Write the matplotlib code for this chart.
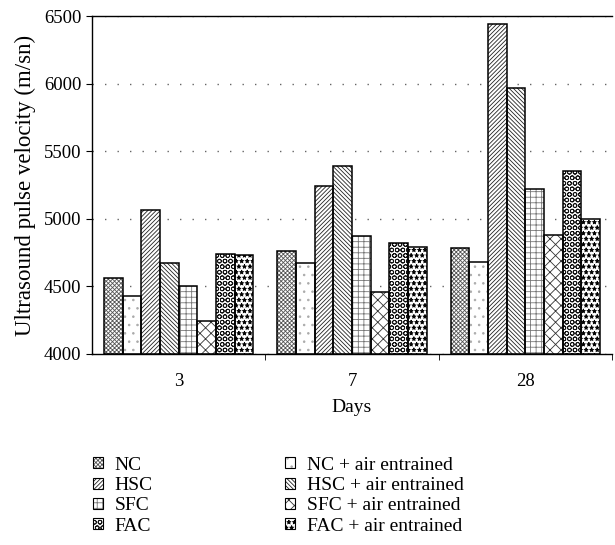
import numpy as np
import matplotlib
matplotlib.use("Agg")
import matplotlib.pyplot as plt
from matplotlib.patches import Patch

plt.rcParams['font.family'] = ['Liberation Serif', 'DejaVu Serif']
plt.rcParams['hatch.linewidth'] = 0.6

# data
days = ['3', '7', '28']
series = ['NC', 'NC + air entrained', 'HSC', 'HSC + air entrained',
          'SFC', 'SFC + air entrained', 'FAC', 'FAC + air entrained']
nc = [4562, 4764, 4781]
nc_air = [4429, 4675, 4680]
hsc = [5065, 5245, 6438]
hsc_air = [4671, 5390, 5965]
sfc = [4505, 4870, 5223]
sfc_air = [4246, 4461, 4880]
fac = [4737, 4823, 5351]
fac_air = [4730, 4789, 5001]
values = [nc, nc_air, hsc, hsc_air, sfc, sfc_air, fac, fac_air]

# hatch look for each series (pattern, hatch colour)
hatches = ['xxxxxxxx', '..', '////////', '\\\\\\\\\\\\\\\\', '+++', 'xxx', 'OOO', '***']
hcolors = ['#555555', '#aaaaaa', '#222222', '#222222', '#777777', '#333333', '#111111', '#000000']

fig = plt.figure(figsize=(6.15, 5.45), dpi=100)
ax = fig.add_axes([0.1496, 0.3505, 0.8455, 0.6201])

x = np.arange(len(days))
w = 0.1075
for i, vals in enumerate(values):
    pos = x + (i - 3.5) * w
    ax.bar(pos, np.array(vals) - 4000, w, bottom=4000, color='white',
           edgecolor=hcolors[i], linewidth=0, hatch=hatches[i], zorder=2)
    ax.bar(pos, np.array(vals) - 4000, w, bottom=4000, fill=False,
           edgecolor='black', linewidth=1.1, zorder=3)

ax.set_ylim(4000, 6500)
ax.set_xlim(-0.5, 2.5)
ax.set_yticks([4000, 4500, 5000, 5500, 6000, 6500])
ax.set_xticks(x)
ax.set_xticklabels(days)
ax.set_xticks([0.5, 1.5, 2.5], minor=True)
ax.tick_params(axis='x', which='major', length=0, pad=14, labelsize=13.5)
ax.tick_params(axis='x', which='minor', length=4, direction='out')
ax.tick_params(axis='y', length=4, direction='out', labelsize=13.5)
ax.grid(axis='y', color='#666666', linestyle=(0, (1, 8)), linewidth=1, zorder=1)
ax.set_axisbelow(True)
ax.spines['right'].set_visible(False)
for s in ['left', 'bottom', 'top']:
    ax.spines[s].set_linewidth(1.0)

ax.set_ylabel('Ultrasound pulse velocity (m/sn)', fontsize=16.5, labelpad=6)
ax.set_xlabel('Days', fontsize=14, labelpad=6)

# legend, column by column as in the picture
order = [0, 2, 4, 6, 1, 3, 5, 7]
handles = [(Patch(facecolor='white', edgecolor=hcolors[i], hatch=hatches[i], linewidth=0),
            Patch(fill=False, edgecolor='black', linewidth=0.8)) for i in order]
labels = [series[i] for i in order]
fig.legend(handles, labels, loc='upper left', bbox_to_anchor=(0.151, 0.162),
           ncol=2, frameon=False, fontsize=14, handlelength=0.5, handleheight=0.5,
           handletextpad=0.62, labelspacing=0.17, columnspacing=6.8,
           borderpad=0, borderaxespad=0)

fig.savefig('out.png', dpi=100)
